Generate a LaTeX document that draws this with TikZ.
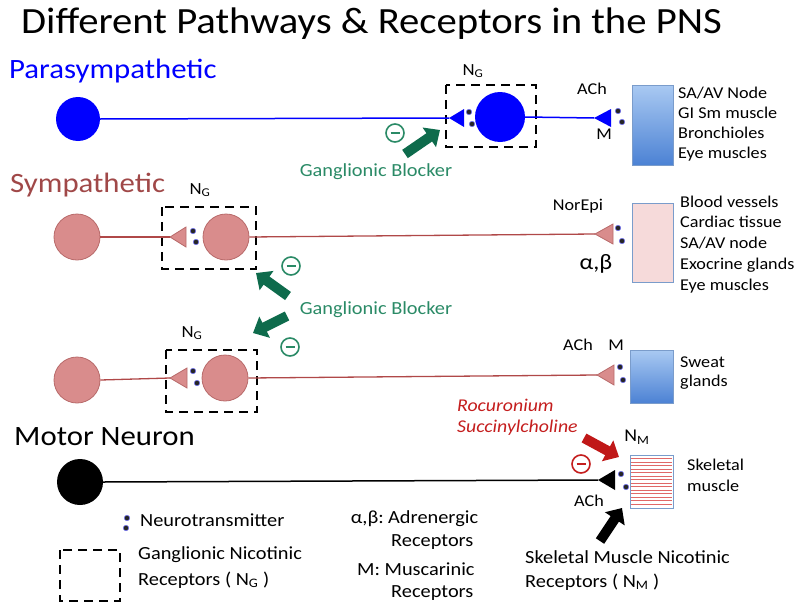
\documentclass[tikz,border=0pt]{standalone}
\usepackage{fontspec}
\setmainfont[FakeStretch=1.1]{Carlito}
\usetikzlibrary{arrows.meta}
\definecolor{psym}{HTML}{0000FF}
\definecolor{symtxt}{HTML}{A04848}
\definecolor{symfill}{HTML}{D98C8C}
\definecolor{symdraw}{HTML}{B86A6A}
\definecolor{symline}{HTML}{B04848}
\definecolor{gtxt}{HTML}{2A8A66}
\definecolor{garr}{HTML}{0E6B4C}
\definecolor{rtxt}{HTML}{C41E1E}
\definecolor{rarr}{HTML}{C01818}
\definecolor{bxborder}{HTML}{7A9CCB}
\definecolor{bxtop}{HTML}{A9C9F2}
\definecolor{bxbot}{HTML}{4C82D4}
\definecolor{pinkfill}{HTML}{F6DADA}
\definecolor{stripe}{HTML}{E06868}
\begin{document}
\begin{tikzpicture}[x=1pt,y=-1pt,
  small/.style={font=\fontsize{16.5}{19}\selectfont, inner sep=0, anchor=west},
  mid/.style={font=\fontsize{18.5}{21}\selectfont, inner sep=0, anchor=west},
  sub/.style={font=\fontsize{17}{19}\selectfont, inner sep=0},
  header/.style={font=\fontsize{28}{32}\selectfont, inner sep=0, anchor=west},
  soma/.style={circle, inner sep=0, minimum size=#1},
  ntdot/.style={circle, fill=black!85, draw=blue!55, line width=.5pt, minimum size=5.5pt, inner sep=0},
  gbox/.style={draw=black, line width=2.6pt, dash pattern=on 9pt off 6pt},
  garrow/.style={draw=garr, line width=10pt, -{Triangle[width=23pt,length=13pt]}},
  rarrow/.style={draw=rarr, line width=10pt, -{Triangle[width=23pt,length=13pt]}},
  karrow/.style={draw=black, line width=10pt, -{Triangle[width=23pt,length=13pt]}},
  minuscirc/.style={circle, draw=#1, line width=1.6pt, minimum size=18pt, inner sep=0,
    path picture={\draw[#1, line width=1.8pt] ([xshift=-4.5pt]path picture bounding box.center) -- ([xshift=4.5pt]path picture bounding box.center);}},
  bluebox/.style={draw=bxborder, line width=.7pt, top color=bxtop, bottom color=bxbot},
]
\useasboundingbox (0,0) rectangle (802,610);

% title
\node[font=\fontsize{37}{42}\selectfont, inner sep=0, anchor=west] (title) at (21,24) {Different Pathways \& Receptors in the PNS};

% ---------------- Parasympathetic ----------------
\node[header, text=psym] (hpara) at (9,71) {Parasympathetic};
\node[soma=44pt, fill=psym] (P1) at (78,119) {};
\draw[gbox] (446,85) rectangle (536,147);
\node[sub] (ngp) at (473,71) {N\textsubscript{G}};
\coordinate (PT1) at (449,118);
\fill[psym] (PT1) -- ++(15,-9) -- ++(0,18) -- cycle;
\node[soma=50pt, fill=psym] (P2) at (500,117) {};
\draw[psym, line width=1.5pt] (P1.east) -- (PT1);
\node[ntdot] (pd1) at (469,112) {};
\node[ntdot] (pd2) at (472,124) {};
\coordinate (PT2) at (594,118);
\fill[psym] (PT2) -- ++(17,-9) -- ++(0,18) -- cycle;
\draw[psym, line width=1.5pt] (P2.east) -- (PT2);
\node[ntdot] (pd3) at (618,111) {};
\node[ntdot] (pd4) at (622,122) {};
\node[small, anchor=center] (achp) at (592,89) {ACh};
\node[small, anchor=center] (mp) at (604,134) {M};
\path[bluebox] (632,85) rectangle (673,165);
\node[small] (tp1) at (678,93) {SA/AV Node};
\node[small] (tp2) at (678,113) {GI Sm muscle};
\node[small] (tp3) at (678,133) {Bronchioles};
\node[small] (tp4) at (678,154) {Eye muscles};
% blocker
\coordinate (ga1t) at (405,154);
\coordinate (ga1h) at (440,130);
\draw[garrow] (ga1t) -- (ga1h);
\node[minuscirc=gtxt] (gm1) at (395,133) {};
\node[mid, anchor=center, text=gtxt] (gb1) at (376,172) {Ganglionic Blocker};

% ---------------- Sympathetic ----------------
\node[header, text=symtxt] (hsym) at (10,185) {Sympathetic};
\node[sub] (ngs1) at (200,190) {N\textsubscript{G}};
\node[soma=46pt, fill=symfill, draw=symdraw, line width=.8pt] (S1) at (77,237) {};
\draw[gbox] (162,207) rectangle (256,269);
\coordinate (ST1) at (170,237);
\filldraw[fill=symfill, draw=symdraw, line width=.8pt] (ST1) -- ++(16,-10) -- ++(0,20) -- cycle;
\node[soma=46pt, fill=symfill, draw=symdraw, line width=.8pt] (S2) at (226,237) {};
\draw[symline, line width=1.3pt] (S1.east) -- (ST1);
\node[ntdot] (sd1) at (193,231) {};
\node[ntdot] (sd2) at (196,242) {};
\coordinate (ST2) at (595,234);
\filldraw[fill=symfill, draw=symdraw, line width=.8pt] (ST2) -- ++(18,-10) -- ++(0,20) -- cycle;
\draw[symline, line width=1.3pt] (S2.east) -- (ST2);
\node[ntdot] (sd3) at (618,228) {};
\node[ntdot] (sd4) at (622,241) {};
\node[small, anchor=center] (nor) at (578,206) {NorEpi};
\node[font=\fontsize{22}{24}\selectfont, inner sep=0] (ab) at (596,264) {α,β};
\path[draw=bxborder, line width=.7pt, fill=pinkfill] (632,203) rectangle (673,282);
\node[small] (ts1) at (680,202) {Blood vessels};
\node[small] (ts2) at (680,222) {Cardiac tissue};
\node[small] (ts3) at (680,243) {SA/AV node};
\node[small] (ts4) at (680,265) {Exocrine glands};
\node[small] (ts5) at (680,286) {Eye muscles};
% blockers
\coordinate (ga2t) at (288,296);
\coordinate (ga2h) at (256,273);
\draw[garrow] (ga2t) -- (ga2h);
\node[minuscirc=gtxt] (gm2) at (291,266) {};
\node[mid, anchor=center, text=gtxt] (gb2) at (376,310) {Ganglionic Blocker};
\coordinate (ga3t) at (287,316);
\coordinate (ga3h) at (253,333);
\draw[garrow] (ga3t) -- (ga3h);
\node[minuscirc=gtxt] (gm3) at (290,347) {};

% ---------------- Sympathetic (sweat) ----------------
\node[sub] (ngs2) at (192,333) {N\textsubscript{G}};
\node[soma=46pt, fill=symfill, draw=symdraw, line width=.8pt] (S3) at (77,380) {};
\draw[gbox] (166,350) rectangle (257,412);
\coordinate (ST3) at (170,378);
\filldraw[fill=symfill, draw=symdraw, line width=.8pt] (ST3) -- ++(17,-10) -- ++(0,20) -- cycle;
\node[soma=46pt, fill=symfill, draw=symdraw, line width=.8pt] (S4) at (225,378) {};
\draw[symline, line width=1.3pt] (S3.east) -- (ST3);
\node[ntdot] (sd5) at (193,371) {};
\node[ntdot] (sd6) at (197,383) {};
\coordinate (ST4) at (597,375);
\filldraw[fill=symfill, draw=symdraw, line width=.8pt] (ST4) -- ++(17,-10) -- ++(0,20) -- cycle;
\draw[symline, line width=1.3pt] (S4.east) -- (ST4);
\node[ntdot] (sd7) at (620,367) {};
\node[ntdot] (sd8) at (623,380) {};
\node[small, anchor=center] (ach3) at (578,345) {ACh};
\node[small, anchor=center] (m3) at (616,345) {M};
\path[bluebox] (630,350) rectangle (673,403);
\node[small] (tw1) at (680,362) {Sweat};
\node[small] (tw2) at (680,382) {glands};

% ---------------- Motor neuron ----------------
\node[header, text=black] (hmot) at (14,437) {Motor Neuron};
\node[soma=46pt, fill=black] (M1) at (80,482) {};
\coordinate (MT1) at (598,480);
\fill[black] (MT1) -- ++(17,-10) -- ++(0,20) -- cycle;
\draw[black, line width=1.5pt] (M1.east) -- (MT1);
\node[ntdot] (md1) at (621,474) {};
\node[ntdot] (md2) at (626,487) {};
\path[draw=bxborder, line width=.7pt, fill=white] (630,455) rectangle (673,508);
\foreach \yy in {458.5,462,...,506} {\draw[stripe, line width=.6pt] (631,\yy) -- (672,\yy);}
\node[small] (tk1) at (687,465) {Skeletal};
\node[small] (tk2) at (687,486) {muscle};
\node[font=\fontsize{18}{20}\selectfont, inner sep=0] (nm) at (637,437) {N\textsubscript{M}};
\node[small, anchor=center] (achm) at (589,501) {ACh};
\node[mid, font=\fontsize{18}{20}\selectfont\itshape, text=rtxt] (roc) at (457,405) {Rocuronium};
\node[mid, font=\fontsize{18}{20}\selectfont\itshape, text=rtxt] (suc) at (457,428) {Succinylcholine};
\coordinate (rat) at (584,438);
\coordinate (rah) at (619,457);
\draw[rarrow] (rat) -- (rah);
\node[minuscirc=rtxt] (rm) at (581,464) {};
\coordinate (kat) at (600,541);
\coordinate (kah) at (622,508);
\draw[karrow] (kat) -- (kah);
\node[mid] (sk1) at (525,557) {Skeletal Muscle Nicotinic};
\node[mid] (sk2) at (525,582) {Receptors ( N\textsubscript{M} )};

% ---------------- Legend ----------------
\node[ntdot] (ld1) at (127,518) {};
\node[ntdot] (ld2) at (126,528) {};
\node[mid] (lnt) at (140,520) {Neurotransmitter};
\draw[gbox] (60,550) rectangle (120,601);
\node[mid] (lg1) at (138,555) {Ganglionic Nicotinic};
\node[mid] (lg2) at (138,580) {Receptors ( N\textsubscript{G} )};
\node[mid, anchor=east] (la1) at (384,519) {α,β:};
\node[mid] (la2) at (388,519) {Adrenergic};
\node[mid] (la3) at (391,542) {Receptors};
\node[mid] (lm1) at (357,569) {M: Muscarinic};
\node[mid] (lm2) at (391,593) {Receptors};
\end{tikzpicture}
\end{document}
